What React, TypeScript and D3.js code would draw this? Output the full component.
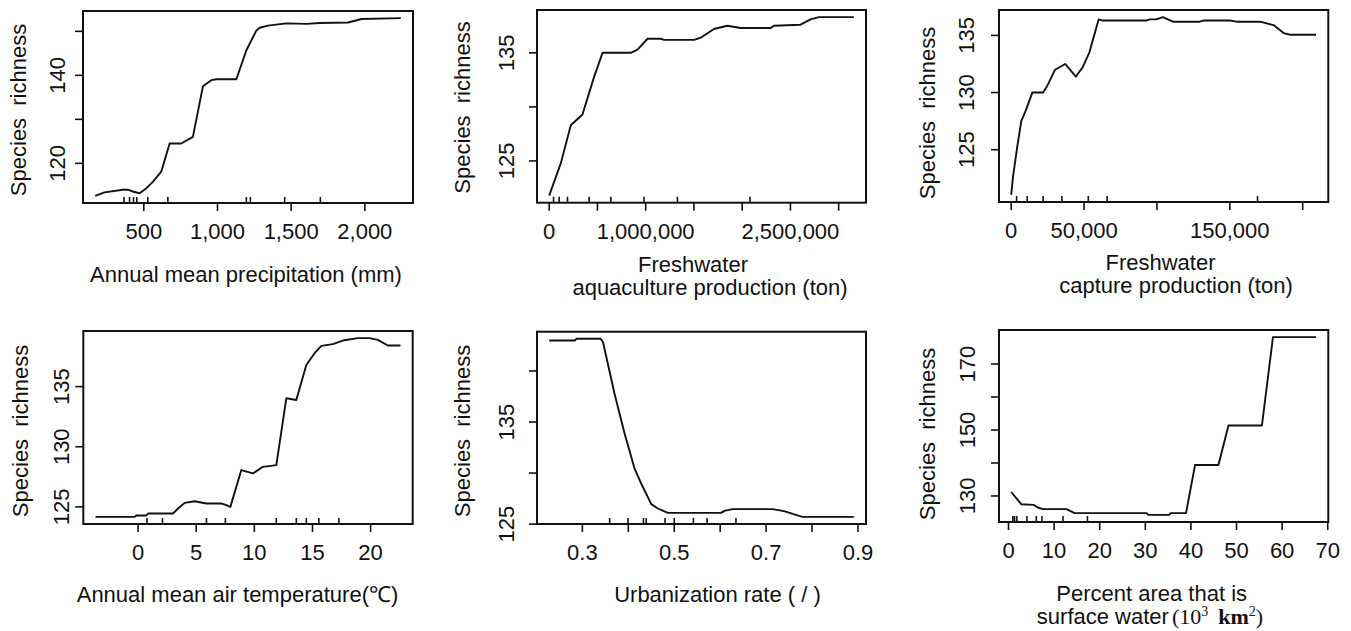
import React from 'react';
import * as d3 from 'd3';

// ---------- data ----------
const precipX = [170, 233, 357, 391, 425, 471, 516, 561, 618, 675, 754, 833, 901, 958, 992, 1128, 1196, 1264, 1286, 1342, 1467, 1603, 1694, 1886, 1977, 2244];
const precipY = [112.6, 113.4, 114.0, 114.0, 113.6, 113.2, 114.3, 115.8, 118.1, 124.5, 124.5, 126.0, 137.5, 138.9, 139.1, 139.1, 145.7, 150.2, 150.8, 151.3, 151.8, 151.7, 151.9, 152.0, 152.8, 153.0];
const precipRug = [365, 403, 430, 452, 527, 663, 1196, 1223, 1456, 1698];
const precipXTicks = [500, 1000, 1500, 2000];
const precipXLabels = [500, 1000, 1500, 2000];
const precipYTicks = [120, 130, 140, 150];
const precipYLabels = [120, 140];

const aquaX = [0, 121e3, 224e3, 345e3, 466e3, 553e3, 846e3, 915e3, 1019e3, 1156e3, 1190e3, 1501e3, 1570e3, 1708e3, 1846e3, 1984e3, 2295e3, 2329e3, 2605e3, 2709e3, 2795e3, 3157e3];
const aquaY = [121.8, 124.8, 128.3, 129.3, 132.8, 135.0, 135.0, 135.3, 136.3, 136.3, 136.2, 136.2, 136.4, 137.2, 137.5, 137.3, 137.3, 137.5, 137.6, 138.1, 138.3, 138.3];
const aquaRug = [45.5e3, 103.5e3, 190e3, 414e3, 639e3, 983e3, 1329e3, 2081e3];
const aquaXTicks = [0, 500e3, 1000e3, 1500e3, 2000e3, 2500e3, 3000e3];
const aquaXLabels = [0, 1000e3, 2500e3];
const aquaYTicks = [125, 130, 135];
const aquaYLabels = [125, 135];

const captX = [0, 1.2e3, 4.1e3, 6.9e3, 9.9e3, 14.5e3, 21.9e3, 24.8e3, 30.1e3, 37e3, 44.4e3, 49e3, 53.6e3, 60e3, 62.8e3, 92.7e3, 95e3, 99.6e3, 104e3, 111e3, 129.4e3, 131.7e3, 150e3, 154.8e3, 170.8e3, 180e3, 186.9e3, 191.5e3, 209.2e3];
const captY = [121.05, 122.6, 125.2, 127.5, 128.4, 130.0, 130.0, 130.6, 132.0, 132.5, 131.4, 132.2, 133.5, 136.4, 136.3, 136.3, 136.4, 136.4, 136.6, 136.2, 136.2, 136.3, 136.3, 136.2, 136.2, 135.9, 135.2, 135.06, 135.06];
const captRug = [3.7e3, 11e3, 21.9e3, 34.8e3, 52.9e3, 65.8e3, 169e3];
const captXTicks = [0, 50e3, 100e3, 150e3, 200e3];
const captXLabels = [0, 50e3, 150e3];
const captYTicks = [125, 130, 135];
const captYLabels = [125, 130, 135];

const tempX = [-3.66, -0.28, -0.14, 0.72, 0.86, 3.0, 3.44, 4.01, 4.87, 5.88, 7.16, 7.59, 7.94, 8.88, 9.88, 10.74, 11.89, 12.75, 13.61, 14.47, 15.18, 15.76, 16.75, 17.61, 18.9, 19.91, 20.62, 21.48, 22.57];
const tempY = [124.17, 124.17, 124.28, 124.28, 124.45, 124.45, 124.86, 125.33, 125.47, 125.28, 125.28, 125.14, 125.0, 128.06, 127.78, 128.33, 128.47, 134.03, 133.89, 136.8, 137.78, 138.39, 138.53, 138.83, 139.03, 139.03, 138.89, 138.42, 138.42];
const tempRug = [0.77, 2.1, 5.88, 7.51, 11.89, 13.61, 14.47, 15.55, 17.27];
const tempXTicks = [0, 5, 10, 15, 20];
const tempXLabels = [0, 5, 10, 15, 20];
const tempYTicks = [125, 130, 135];
const tempYLabels = [125, 130, 135];

const urbX = [0.2277, 0.2833, 0.287, 0.3398, 0.345, 0.37, 0.3919, 0.4136, 0.428, 0.45, 0.4644, 0.486, 0.602, 0.609, 0.627, 0.714, 0.739, 0.779, 0.891];
const urbY = [142.99, 142.99, 143.15, 143.15, 142.82, 137.77, 133.87, 130.44, 128.98, 126.96, 126.53, 126.1, 126.1, 126.3, 126.47, 126.47, 126.27, 125.71, 125.71];
const urbRug = [0.3593, 0.3992, 0.433, 0.439, 0.4798, 0.5, 0.5417, 0.5715, 0.6344];
const urbXTicks = [0.3, 0.4, 0.5, 0.6, 0.7, 0.8, 0.9];
const urbXLabels = [0.3, 0.5, 0.7, 0.9];
const urbYTicks = [125, 130, 135, 140];
const urbYLabels = [125, 135];

const waterX = [0.59, 2.79, 5.5, 6.45, 7.55, 12.69, 14.51, 30.28, 30.64, 35.25, 35.56, 38.93, 40.9, 46.03, 48.23, 55.57, 57.99, 67.45];
const waterY = [131.2, 127.5, 127.3, 126.5, 126.0, 126.0, 124.8, 124.8, 124.26, 124.26, 124.8, 124.8, 139.37, 139.37, 151.36, 151.36, 178.16, 178.16];
const waterRug = [0.95, 1.32, 1.83, 4.03, 6.09, 7.33, 11.94, 17.31];
const waterXTicks = [0, 10, 20, 30, 40, 50, 60, 70];
const waterXLabels = [0, 10, 20, 30, 40, 50, 60, 70];
const waterYTicks = [130, 140, 150, 160, 170];
const waterYLabels = [130, 150, 170];

const yTitle = 'Species richness';

// ---------- layout ----------
const SANS = '"Liberation Sans", Arial, Helvetica, sans-serif';
const SERIF = '"Liberation Serif", "Times New Roman", serif';
const FS = 22;

type Panel = {
  box: [number, number, number, number];
  xs: number[]; ys: number[]; rug: number[];
  xTicks: number[]; xLabels: number[]; yTicks: number[]; yLabels: number[];
  yTickOff: number; yTitleX: number; yTitleCy: number;
  title: (React.ReactNode)[]; titlePos: [number, number][];
};

const fmt = d3.format(',');

const panels: Panel[] = [
  {
    box: [83, 11, 413, 203], xs: precipX, ys: precipY, rug: precipRug,
    xTicks: precipXTicks, xLabels: precipXLabels, yTicks: precipYTicks, yLabels: precipYLabels,
    yTickOff: 18, yTitleX: 26, yTitleCy: 110,
    title: ['Annual mean precipitation (mm)'], titlePos: [[246, 282]],
  },
  {
    box: [537, 10, 866, 202.7], xs: aquaX, ys: aquaY, rug: aquaRug,
    xTicks: aquaXTicks, xLabels: aquaXLabels, yTicks: aquaYTicks, yLabels: aquaYLabels,
    yTickOff: 23.5, yTitleX: 469.5, yTitleCy: 107.5,
    title: ['Freshwater', 'aquaculture production (ton)'], titlePos: [[693, 271.5], [710, 294.5]],
  },
  {
    box: [999, 10, 1328.3, 202], xs: captX, ys: captY, rug: captRug,
    xTicks: captXTicks, xLabels: captXLabels, yTicks: captYTicks, yLabels: captYLabels,
    yTickOff: 25.5, yTitleX: 934.5, yTitleCy: 113,
    title: ['Freshwater', 'capture production (ton)'], titlePos: [[1160.5, 270], [1176, 292.5]],
  },
  {
    box: [83.3, 331, 412.7, 524], xs: tempX, ys: tempY, rug: tempRug,
    xTicks: tempXTicks, xLabels: tempXLabels, yTicks: tempYTicks, yLabels: tempYLabels,
    yTickOff: 14.5, yTitleX: 28, yTitleCy: 431,
    title: ['Annual mean air temperature(℃)'], titlePos: [[237.5, 602]],
  },
  {
    box: [537, 331.7, 866, 524], xs: urbX, ys: urbY, rug: urbRug,
    xTicks: urbXTicks, xLabels: urbXLabels, yTicks: urbYTicks, yLabels: urbYLabels,
    yTickOff: 23, yTitleX: 469.5, yTitleCy: 431,
    title: ['Urbanization rate ( / )'], titlePos: [[717.5, 602]],
  },
  {
    box: [999, 330, 1328.3, 522], xs: waterX, ys: waterY, rug: waterRug,
    xTicks: waterXTicks, xLabels: waterXLabels, yTicks: waterYTicks, yLabels: waterYLabels,
    yTickOff: 24.5, yTitleX: 934.5, yTitleCy: 434,
    title: [
      'Percent area that is',
      (
        <>
          <tspan>surface water</tspan>
          <tspan fontFamily={SERIF} dx="3">(10</tspan>
          <tspan fontFamily={SERIF} fontSize={14} dy="-8">3</tspan>
          <tspan fontFamily={SERIF} fontWeight="bold" dy="8" dx="10">km</tspan>
          <tspan fontFamily={SERIF} fontSize={14} dy="-8">2</tspan>
          <tspan fontFamily={SERIF} dy="8">)</tspan>
        </>
      ),
    ],
    titlePos: [[1151.7, 601], [1150, 624]],
  },
];

function pad(e: [number, number]): [number, number] {
  const r = e[1] - e[0];
  return [e[0] - 0.04 * r, e[1] + 0.04 * r];
}

function PanelView({ p }: { p: Panel }) {
  const [x0, y0, x1, y1] = p.box;
  const x = d3.scaleLinear().domain(pad(d3.extent(p.xs) as [number, number])).range([x0, x1]);
  const y = d3.scaleLinear().domain(pad(d3.extent(p.ys) as [number, number])).range([y1, y0]);
  const line = d3.line<number>().x((d) => x(d)).y((_, i) => y(p.ys[i]));
  const path = line(p.xs) || '';
  const tick = 8;
  const rugLen = 6;
  return (
    <g>
      <rect x={x0} y={y0} width={x1 - x0} height={y1 - y0} fill="none" stroke="#111" strokeWidth={2} />
      <path d={path} fill="none" stroke="#111" strokeWidth={1.9} strokeLinejoin="round" />
      {p.rug.map((v, i) => (
        <line key={'r' + i} x1={x(v)} x2={x(v)} y1={y1} y2={y1 - rugLen} stroke="#111" strokeWidth={1.6} />
      ))}
      {p.xTicks.map((v, i) => (
        <line key={'xt' + i} x1={x(v)} x2={x(v)} y1={y1} y2={y1 + tick} stroke="#111" strokeWidth={1.6} />
      ))}
      {p.xLabels.map((v, i) => (
        <text key={'xl' + i} x={x(v)} y={y1 + 36} textAnchor="middle" fontFamily={SANS} fontSize={FS} fill="#111">
          {fmt(v)}
        </text>
      ))}
      {p.yTicks.map((v, i) => (
        <line key={'yt' + i} x1={x0} x2={x0 - tick} y1={y(v)} y2={y(v)} stroke="#111" strokeWidth={1.6} />
      ))}
      {p.yLabels.map((v, i) => (
        <text key={'yl' + i} transform={`translate(${x0 - p.yTickOff},${y(v)}) rotate(-90)`} textAnchor="middle"
          fontFamily={SANS} fontSize={FS} fill="#111">
          {fmt(v)}
        </text>
      ))}
      <text transform={`translate(${p.yTitleX},${p.yTitleCy}) rotate(-90)`} textAnchor="middle"
        fontFamily={SANS} fontSize={FS} fill="#111" wordSpacing={6}>
        {yTitle}
      </text>
      {p.title.map((t, i) => (
        <text key={'t' + i} x={p.titlePos[i][0]} y={p.titlePos[i][1]} textAnchor="middle"
          fontFamily={SANS} fontSize={FS} fill="#111">
          {t}
        </text>
      ))}
    </g>
  );
}

export default function App() {
  return (
    <svg width={1351} height={631} viewBox="0 0 1351 631"
      style={{ position: 'absolute', left: 0, top: 0, background: '#fff' }}>
      <rect x={0} y={0} width={1351} height={631} fill="#fff" />
      {panels.map((p, i) => <PanelView key={i} p={p} />)}
    </svg>
  );
}
